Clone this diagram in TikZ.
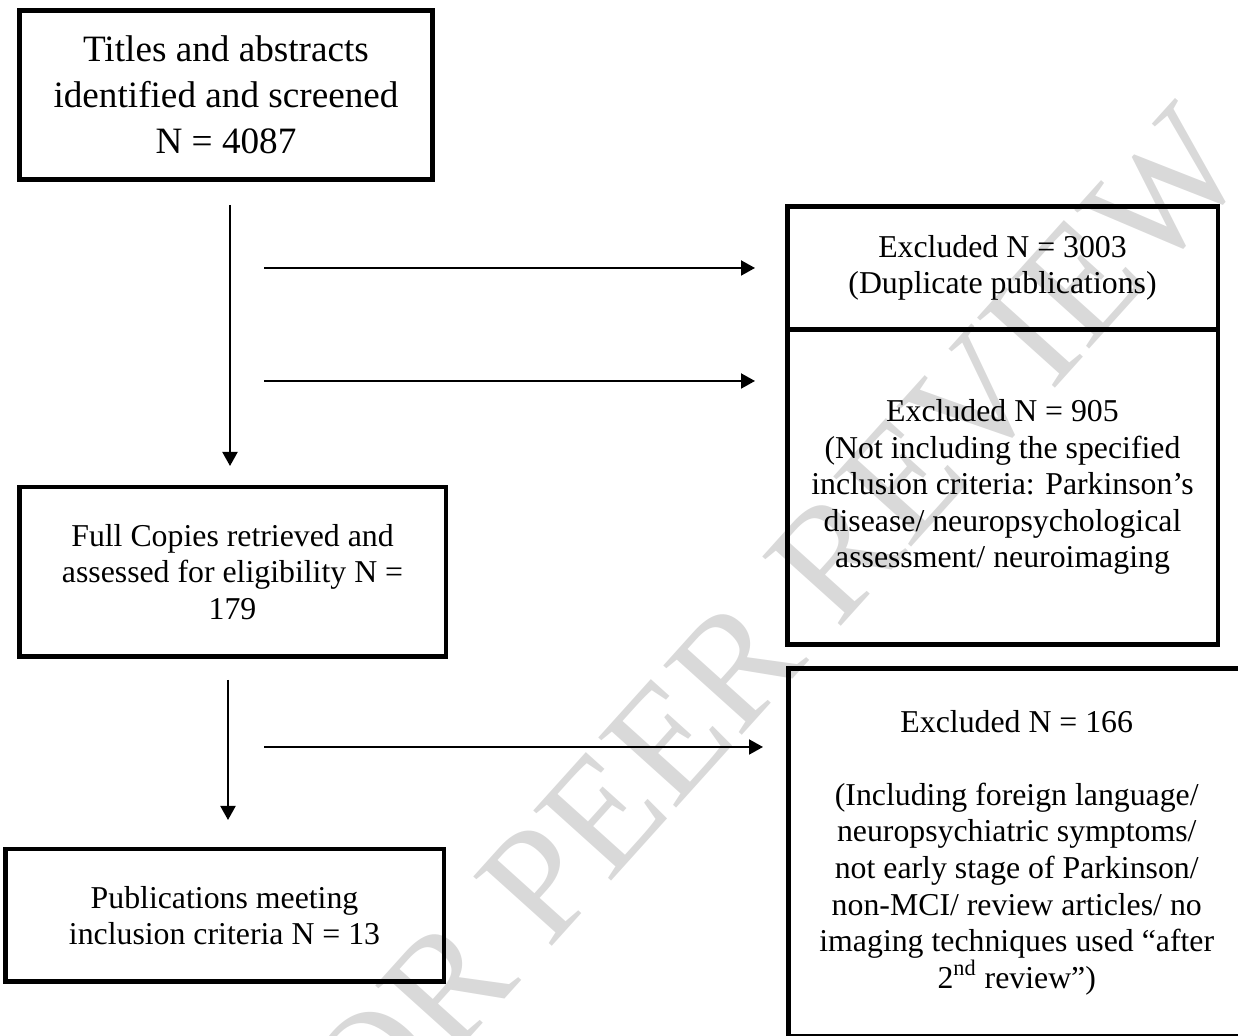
\documentclass[tikz,border=0pt]{standalone}
\usepackage{fontspec}
\setmainfont{Liberation Serif}
\usetikzlibrary{arrows.meta}

\begin{document}
\begin{tikzpicture}[x=0.5pt, y=-0.5pt, >={Triangle[length=7pt,width=7.5pt]},
    box/.style={draw, line width=2.25pt, align=center, inner sep=0pt,
        font=\fontsize{15.9}{18.3}\selectfont},
    flow/.style={->, line width=1pt}]
\useasboundingbox (0,0) rectangle (1238,1036);
\clip (0,0) rectangle (1238,1036);
% watermark
\node[rotate=48, text=black!15, font=\fontsize{80}{80}\selectfont] (mark) at (745,655) {FOR PEER REVIEW};
% left column
\node[box, minimum width=206.5pt, minimum height=84.5pt, font=\fontsize{18.6}{23}\selectfont] (titles) at (226,95)
    {Titles and abstracts\\identified and screened\\N = 4087};
\node[box, minimum width=213.25pt, minimum height=84.75pt] (full) at (232.5,572)
    {Full Copies retrieved and\\assessed for eligibility N =\\179};
\node[box, minimum width=219.25pt, minimum height=66.25pt] (pubs) at (224.5,915.5)
    {Publications meeting\\inclusion criteria N = 13};
% right column
\node[box, minimum width=215.25pt, minimum height=61.6pt] (dupl) at (1002.5,267.9)
    {Excluded N = 3003\\(Duplicate publications)};
\node[box, minimum width=215.25pt, minimum height=157.6pt] (crit) at (1002.5,487.1)
    {Excluded N = 905\\(Not including the specified\\inclusion criteria: Parkinson’s\\disease/ neuropsychological\\assessment/ neuroimaging};
\node[box, minimum width=228.25pt, minimum height=184pt] (other) at (1016.75,852.5)
    {Excluded N = 166\\[18.3pt](Including foreign language/\\neuropsychiatric symptoms/\\not early stage of Parkinson/\\non-MCI/ review articles/ no\\imaging techniques used “after\\2\textsuperscript{nd} review”)};
% arrows
\coordinate (v1) at (230,205);
\coordinate (v1e) at (230,466);
\coordinate (h1) at (264,268);
\coordinate (h1e) at (755,268);
\coordinate (h2) at (264,381);
\coordinate (h2e) at (755,381);
\coordinate (v2) at (228,680);
\coordinate (v2e) at (228,820);
\coordinate (h3) at (264,747);
\coordinate (h3e) at (763,747);
\foreach \a/\b in {v1/v1e, h1/h1e, h2/h2e, v2/v2e, h3/h3e}{
    \draw[flow] (\a) -- (\b);
}
\end{tikzpicture}
\end{document}
